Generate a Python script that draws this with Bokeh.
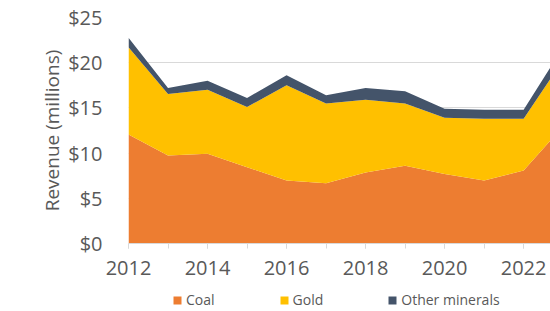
from bokeh.plotting import figure
from bokeh.layouts import column
from bokeh.models import ColumnDataSource, Legend, LegendItem, FixedTicker, PrintfTickFormatter, Range1d
from bokeh.embed import file_html
from bokeh.resources import INLINE

years = [2012, 2013, 2014, 2015, 2016, 2017, 2018, 2019, 2020, 2021, 2022, 2023]
coal = [12.05, 9.73, 9.92, 8.44, 6.97, 6.67, 7.85, 8.6, 7.7, 6.97, 8.07, 12.97]
gold = [9.65, 6.82, 7.08, 6.66, 10.53, 8.83, 8.05, 6.9, 6.2, 6.83, 5.73, 7.33]
other = [1.05, 0.65, 1.0, 1.0, 1.1, 0.9, 1.3, 1.35, 1.0, 1.0, 1.0, 1.4]
series_names = ["Coal", "Gold", "Other minerals"]
colors = ["#ED7D31", "#FFC000", "#44546A"]
y_ticks = [0, 5, 10, 15, 20, 25]
x_label_ticks = [2012, 2014, 2016, 2018, 2020, 2022]

source = ColumnDataSource(dict(year=years, coal=coal, gold=gold, other=other))

FONT = "Open Sans"
TXT = "#595959"

p = figure(width=550, height=288, output_backend="svg", toolbar_location=None,
           x_range=Range1d(2012, 2022.68), y_range=Range1d(0, 25),
           min_border_left=128, min_border_right=0, min_border_top=17, min_border_bottom=45)
p.outline_line_color = None
p.background_fill_color = "white"
p.border_fill_color = "white"

rs = p.varea_stack(stackers=["coal", "gold", "other"], x="year", color=colors, source=source)

p.xgrid.grid_line_color = None
p.ygrid.grid_line_color = "#D9D9D9"
p.ygrid.grid_line_width = 1
p.ygrid.ticker = FixedTicker(ticks=y_ticks)

p.yaxis.ticker = FixedTicker(ticks=y_ticks)
p.yaxis.formatter = PrintfTickFormatter(format="$%d")
p.yaxis.axis_line_color = None
p.yaxis.major_tick_line_color = None
p.yaxis.minor_tick_line_color = None
p.yaxis.major_label_standoff = 20
p.yaxis.axis_label = "Revenue (millions)"
p.yaxis.axis_label_standoff = 0
p.yaxis.axis_label_text_font = FONT
p.yaxis.axis_label_text_font_style = "normal"
p.yaxis.axis_label_text_font_size = "19px"
p.yaxis.axis_label_text_color = TXT
p.yaxis.major_label_text_font = FONT
p.yaxis.major_label_text_font_size = "20px"
p.yaxis.major_label_text_color = TXT

p.xaxis.ticker = FixedTicker(ticks=x_label_ticks, minor_ticks=years)
p.xaxis.formatter = PrintfTickFormatter(format="%d")
p.xaxis.axis_line_color = "#D9D9D9"
p.xaxis.major_tick_line_color = "#D9D9D9"
p.xaxis.minor_tick_line_color = "#D9D9D9"
p.xaxis.major_tick_out = 5
p.xaxis.major_tick_in = 0
p.xaxis.minor_tick_out = 5
p.xaxis.minor_tick_in = 0
p.xaxis.major_label_standoff = 12
p.xaxis.major_label_text_font = FONT
p.xaxis.major_label_text_font_size = "20px"
p.xaxis.major_label_text_color = TXT

# legend strip below the chart (its frame is aligned with the chart frame)
lg = figure(width=550, height=23, output_backend="svg", toolbar_location=None,
            x_range=Range1d(0, 1), y_range=Range1d(0, 1),
            min_border_left=0, min_border_right=0, min_border_top=0, min_border_bottom=0)
lg.axis.visible = False
lg.grid.visible = False
lg.outline_line_color = None
lg.border_fill_color = "white"
keys = lg.varea_stack(stackers=["coal", "gold", "other"], x="year", color=colors, source=source)

legend = Legend(items=[LegendItem(label=n, renderers=[r]) for n, r in zip(series_names, keys)],
                orientation="horizontal", location=(44, 2),
                glyph_width=10, glyph_height=10, label_standoff=4, spacing=64,
                padding=0, margin=0, border_line_color=None, background_fill_alpha=0,
                label_text_font=FONT, label_text_font_size="14px", label_text_color=TXT,
                label_height=14)
lg.add_layout(legend, "center")

layout = column(p, lg, spacing=0)
open("out.html", "w").write(file_html(layout, INLINE))
